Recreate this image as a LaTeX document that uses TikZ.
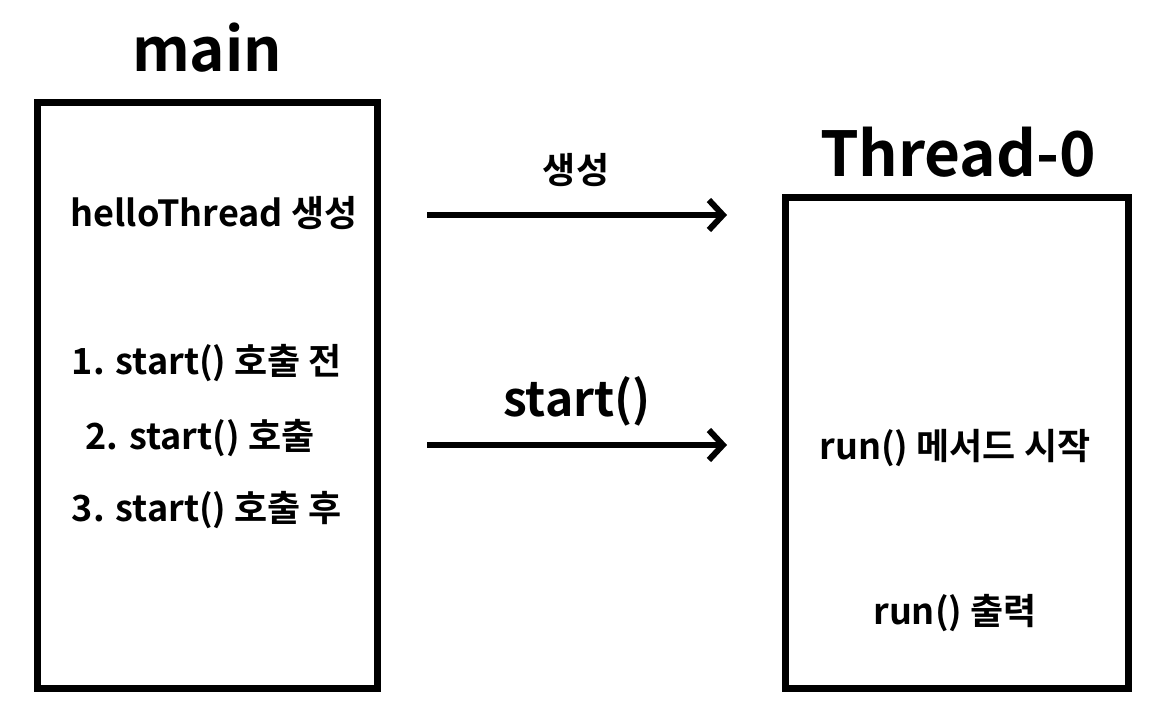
\documentclass[tikz,border=0pt]{standalone}
\usepackage{fontspec}
\setmainfont{Noto Sans CJK KR}[BoldFont={* Bold}]
\usetikzlibrary{arrows.meta}
\begin{document}
\begin{tikzpicture}[x=1pt,y=-1pt,
  box/.style={draw,line width=7pt},
  lbl/.style={font=\bfseries\fontsize{36}{40}\selectfont},
  arr/.style={line width=6pt,-{Straight Barb[length=14pt,width=30pt,line width=6pt]}}]
\useasboundingbox (0,0) rectangle (1156,706);
\draw[box] (37,103) rectangle (377,688);
\draw[box] (785,197) rectangle (1128,688);
\node[font=\bfseries\fontsize{60}{64}\selectfont] (tmain) at (207,48) {main};
\node[font=\bfseries\fontsize{62}{66}\selectfont] (tthr) at (958,152) {Thread-0};
\node[lbl] (h) at (214,213) {helloThread 생성};
\node[lbl] (s1) at (207,363) {1. start() 호출 전};
\node[lbl] (s2) at (200,438) {2. start() 호출};
\node[lbl] (s3) at (207,510) {3. start() 호출 후};
\node[lbl] (r1) at (955,448) {run() 메서드 시작};
\node[lbl] (r2) at (955,613) {run() 출력};
\coordinate (a1s) at (427,215); \coordinate (a1e) at (727,215);
\coordinate (a2s) at (427,445); \coordinate (a2e) at (727,445);
\draw[arr] (a1s) -- (a1e);
\draw[arr] (a2s) -- (a2e);
\node[font=\bfseries\fontsize{36}{40}\selectfont] (l1) at (576,170) {생성};
\node[font=\bfseries\fontsize{48}{52}\selectfont] (l2) at (577,401) {start()};
\end{tikzpicture}
\end{document}
